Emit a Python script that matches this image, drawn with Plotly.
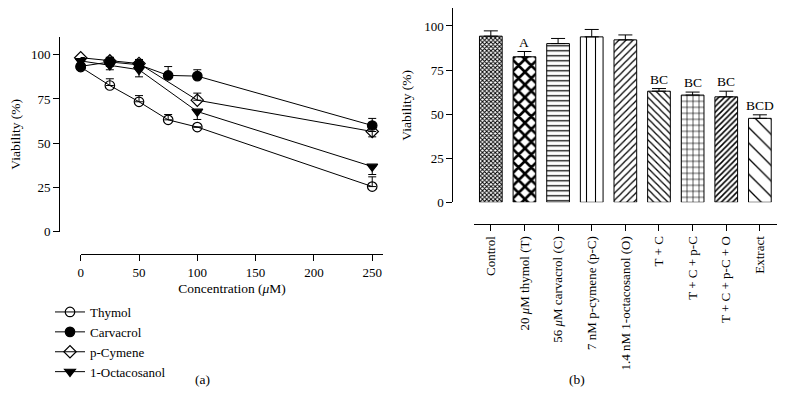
import plotly.graph_objects as go

# ---------------- data: panel (a) ----------------
conc = [0, 25, 50, 75, 100, 250]
conc_cp = [0, 25, 50, 100, 250]  # p-Cymene / 1-Octacosanol (no 75)

thymol = [93, 82.6, 73.4, 63.2, 59.1, 25.5]
thymol_err_up = [0, 3.8, 3.5, 3.0, 0, 5.5]
thymol_err_down = [0, 0, 0, 0, 0, 0]

carvacrol = [93.4, 95.9, 94.3, 88.3, 87.9, 60.0]
carvacrol_err_up = [0, 2.6, 3.0, 5.0, 3.6, 4.0]
carvacrol_err_down = [0, 2.6, 0, 0, 0, 0]

pcymene = [98.3, 96.5, 95.0, 74.3, 56.6]
pcymene_err_up = [0, 2.0, 2.0, 4.0, 0]
pcymene_err_down = [0, 0, 0, 0, 3.0]

octacosanol = [96.5, 94.0, 91.5, 67.9, 36.8]
octacosanol_err_up = [0, 0, 0, 0, 0]
octacosanol_err_down = [0, 2.5, 4.0, 4.5, 4.5]

# ---------------- data: panel (b) ----------------
treatments = ["Control", "20 <i>μ</i>M thymol (T)", "56 <i>μ</i>M carvacrol (C)",
              "7 nM p-cymene (p-C)", "1.4 nM 1-octacosanol (O)", "T + C",
              "T + C + p-C", "T + C + p-C + O", "Extract"]
viability = [94.2, 82.5, 90.0, 93.8, 92.1, 63.0, 60.8, 59.8, 47.6]
viability_err = [3.0, 3.0, 2.9, 4.2, 2.8, 1.5, 1.7, 3.2, 2.0]
sig_letters = ["", "A", "", "", "", "BC", "BC", "BC", "BCD"]

patterns = ["x", "x", "-", "|", "/", "\\", "+", "/", "\\"]
pat_size = [3, 9, 5, 9, 5, 5, 6, 4, 11]
pat_sol = [0.55, 0.5, 0.25, 0.12, 0.25, 0.25, 0.2, 0.38, 0.12]

FONT = "Liberation Serif"
W, H = 785, 403


def px_x(p):
    return p / W


def px_y(p):
    return 1 - p / H


fig = go.Figure()

series = [
    ("Thymol", conc, thymol, thymol_err_up, thymol_err_down, "circle-open"),
    ("Carvacrol", conc, carvacrol, carvacrol_err_up, carvacrol_err_down, "circle"),
    ("p-Cymene", conc_cp, pcymene, pcymene_err_up, pcymene_err_down, "diamond-open"),
    ("1-Octacosanol", conc_cp, octacosanol, octacosanol_err_up, octacosanol_err_down,
     "triangle-down"),
]
for name, xs, ys, eu, ed, sym in series:
    fig.add_trace(go.Scatter(
        x=xs, y=ys, name=name, mode="lines+markers",
        line=dict(color="black", width=1),
        marker=dict(symbol=sym, size=9.5, color="black",
                    line=dict(color="black", width=1.2)),
        error_y=dict(type="data", symmetric=False, array=eu, arrayminus=ed,
                     color="black", thickness=1, width=4),
        cliponaxis=False, xaxis="x", yaxis="y",
    ))

fig.add_trace(go.Bar(
    x=treatments, y=viability, xaxis="x2", yaxis="y2", showlegend=False,
    width=0.675,
    marker=dict(color="white", line=dict(color="black", width=1),
                pattern=dict(shape=patterns, size=pat_size, solidity=pat_sol,
                             fgcolor="black", bgcolor="white", fillmode="replace")),
    error_y=dict(type="data", symmetric=False, array=viability_err,
                 arrayminus=[0] * len(viability), color="black", thickness=1, width=7),
))

annotations = []
for t, v, e, s in zip(treatments, viability, viability_err, sig_letters):
    if s:
        annotations.append(dict(x=t, y=v + e, xref="x2", yref="y2", text=s,
                                showarrow=False, yanchor="bottom", yshift=0,
                                font=dict(family=FONT, size=13.5, color="black")))
annotations.append(dict(x=px_x(193), y=px_y(389), xref="paper", yref="paper",
                        text="(a)", showarrow=False,
                        font=dict(family=FONT, size=13.5, color="black")))
annotations.append(dict(x=px_x(587), y=px_y(389), xref="paper", yref="paper",
                        text="(b)", showarrow=False,
                        font=dict(family=FONT, size=13.5, color="black")))

axis_common = dict(showgrid=False, zeroline=False, showline=True, linecolor="black",
                   linewidth=1, ticks="outside", ticklen=6, tickcolor="black",
                   automargin=False,
                   tickfont=dict(family=FONT, size=13, color="black"))

fig.update_layout(
    width=W, height=H, margin=dict(l=0, r=0, t=0, b=0, autoexpand=False),
    paper_bgcolor="white", plot_bgcolor="white",
    font=dict(family=FONT, size=13, color="black"),
    xaxis=dict(**axis_common, domain=[px_x(80.7), px_x(383.3)], range=[0, 259.5],
               anchor="free", position=px_y(254), tickvals=[0, 50, 100, 150, 200, 250],
               title=dict(text="Concentration (<i>μ</i>M)", standoff=4,
                          font=dict(family=FONT, size=13.5))),
    yaxis=dict(**axis_common, domain=[px_y(231.7), px_y(37)], range=[0, 110],
               anchor="free", position=px_x(59), tickvals=[0, 25, 50, 75, 100],
               title=dict(text="Viability (%)", standoff=6,
                          font=dict(family=FONT, size=13.5))),
    xaxis2=dict(**axis_common, domain=[px_x(474), px_x(776.7)], range=[-0.5, 8.5],
                anchor="free", position=px_y(224), tickangle=-90),
    yaxis2=dict(**axis_common, domain=[px_y(202.3), px_y(8.3)], range=[0, 110],
                anchor="free", position=px_x(452.3), tickvals=[0, 25, 50, 75, 100],
                title=dict(text="Viability (%)", standoff=8,
                           font=dict(family=FONT, size=13.5))),
    legend=dict(x=px_x(50), y=px_y(297), xanchor="left", yanchor="top",
                font=dict(family=FONT, size=13, color="black"),
                bgcolor="rgba(0,0,0,0)", tracegroupgap=0, itemwidth=30),
    annotations=annotations,
    bargap=0.3,
)

fig.write_html("out.html", config={"displayModeBar": False},
               post_script="document.body.style.margin='0';document.body.style.overflow='hidden';")
